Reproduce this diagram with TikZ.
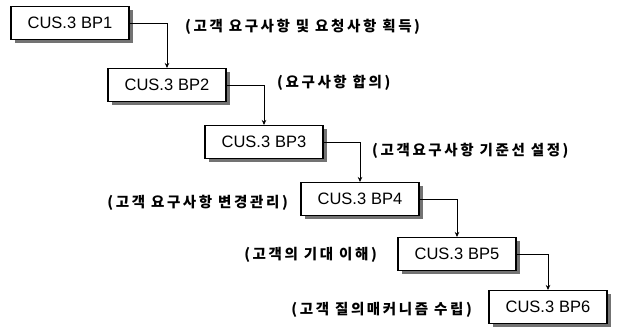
\documentclass[tikz,border=0pt]{standalone}
\usepackage{fontspec}
\setmainfont{Liberation Sans}
\newfontfamily\kr[LetterSpace=18]{Noto Sans CJK KR}
\usetikzlibrary{arrows.meta,shadows}
\tikzset{
  bpbox/.style={draw=black, line width=1.1pt, fill=white, minimum width=118pt, minimum height=33pt,
    inner sep=0pt, font=\fontsize{16.5}{18}\selectfont,
    drop shadow={shadow xshift=3.5pt, shadow yshift=-3.5pt, fill=black!55, opacity=1}},
  lbl/.style={inner sep=0pt, font=\kr\bfseries\fontsize{14.5}{16}\selectfont},
  conn/.style={draw=black, line width=0.8pt, -{Stealth[length=5pt,width=4.5pt]}}
}
\newcommand{\gapsp}{\hspace{5pt}}
\begin{document}
\begin{tikzpicture}[x=1pt,y=-1pt]
\useasboundingbox (0,0) rectangle (617,331);
\node[bpbox] (b1) at (70,23) {CUS.3\gapsp BP1};
\node[bpbox] (b2) at (167,85) {CUS.3\gapsp BP2};
\node[bpbox] (b3) at (264,142) {CUS.3\gapsp BP3};
\node[bpbox] (b4) at (360,199) {CUS.3\gapsp BP4};
\node[bpbox] (b5) at (457,254) {CUS.3\gapsp BP5};
\node[bpbox] (b6) at (548,307) {CUS.3\gapsp BP6};
\draw[conn] (b1.east) -| (b2.north);
\draw[conn] (b2.east) -| (b3.north);
\draw[conn] (b3.east) -| (b4.north);
\draw[conn] (b4.east) -| (b5.north);
\draw[conn] (b5.east) -| (b6.north);
\node[lbl, anchor=west] (l1) at (185,27) {(고객 요구사항 및 요청사항 획득)};
\node[lbl, anchor=west] (l2) at (277,83) {(요구사항 합의)};
\node[lbl, anchor=west] (l3) at (372,151) {(고객요구사항 기준선 설정)};
\node[lbl, anchor=east] (l4) at (288,203) {(고객 요구사항 변경관리)};
\node[lbl, anchor=east] (l5) at (377,255) {(고객의 기대 이해)};
\node[lbl, anchor=east] (l6) at (472,310) {(고객 질의매커니즘 수립)};
\end{tikzpicture}
\end{document}
